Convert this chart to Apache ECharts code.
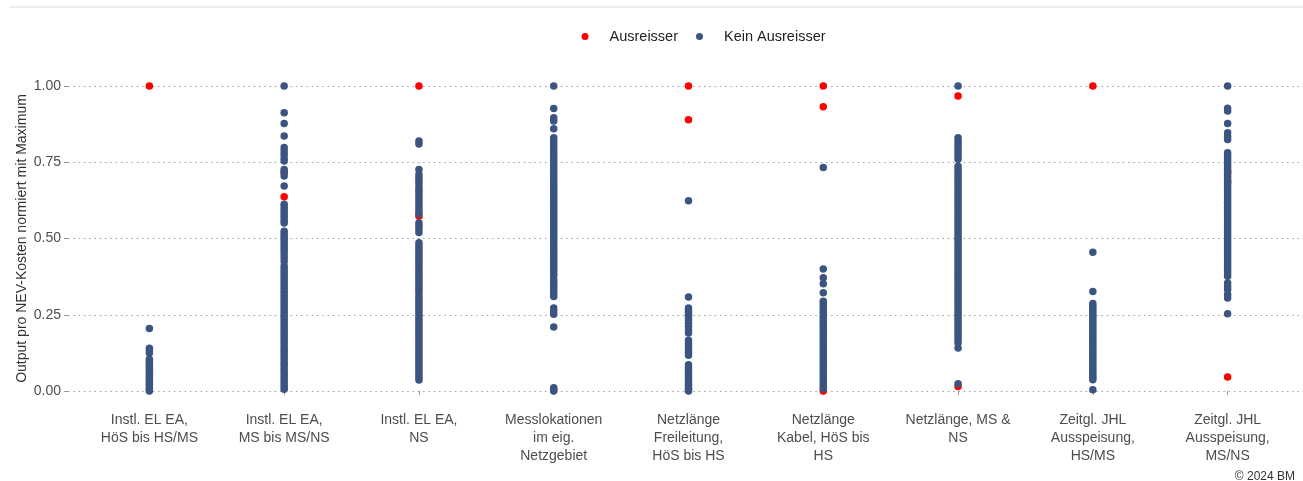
<!DOCTYPE html>
<html>
<head>
<meta charset="utf-8">
<script src="https://cdn.jsdelivr.net/npm/echarts@6/dist/echarts.min.js"></script>
<style>
html,body{margin:0;padding:0;background:#fff;}
#chart{width:1303px;height:481px;}
</style>
</head>
<body>
<div id="chart"></div>
<script>
const categories = [
  'Instl. EL EA,\nHöS bis HS/MS',
  'Instl. EL EA,\nMS bis MS/NS',
  'Instl. EL EA,\nNS',
  'Messlokationen\nim eig.\nNetzgebiet',
  'Netzlänge\nFreileitung,\nHöS bis HS',
  'Netzlänge\nKabel, HöS bis\nHS',
  'Netzlänge, MS &\nNS',
  'Zeitgl. JHL\nAusspeisung,\nHS/MS',
  'Zeitgl. JHL\nAusspeisung,\nMS/NS'
];
const yTicks = [0, 0.25, 0.5, 0.75, 1];

// Kein Ausreisser (blue) per category
const blue1 = [0.205,0.14,0.132,0.125,0.104,0.097,0.09,0.084,0.078,0.071,0.065,0.058,0.052,0.046,0.04,0.034,0.028,0.022,0.016,0.01,0.005,0.0];
const blue2 = [1.0,0.912,0.877,0.836,0.798,0.787,0.776,0.764,0.754,0.726,0.72,0.705,0.672,0.612,0.603,0.594,0.585,0.576,0.567,0.558,0.551,0.524,0.515,0.506,0.497,0.488,0.478,0.468,0.458,0.447,0.436,0.425,
  0.41,0.401,0.392,0.383,0.373,0.364,0.355,0.346,0.337,0.327,0.318,0.309,0.3,0.291,0.281,0.272,0.263,0.254,0.245,0.235,0.226,0.217,0.208,0.199,0.189,0.18,0.171,0.162,0.153,0.143,0.134,0.125,0.116,0.107,0.097,0.088,0.079,0.07,0.061,0.051,0.042,0.033,0.024,0.015,0.006];
const blue3 = [0.82,0.81,0.726,0.71,0.7,0.69,0.68,0.668,0.658,0.648,0.638,0.627,0.617,0.607,0.597,0.587,0.58,0.551,0.541,0.531,0.52,
  0.486,0.477,0.468,0.459,0.449,0.44,0.431,0.422,0.413,0.403,0.394,0.385,0.376,0.367,0.357,0.348,0.339,0.33,0.321,0.311,0.302,0.293,0.284,0.275,0.265,0.256,0.247,0.238,0.229,0.219,0.21,0.201,0.192,0.183,0.173,0.164,0.155,0.146,0.137,0.127,0.118,0.109,0.1,0.091,0.081,0.072,0.063,0.054,0.045,0.036];
const blue4 = [1.0,0.926,0.896,0.885,0.86,0.83,0.82,0.81,0.8,0.79,0.78,0.77,0.76,0.75,0.74,0.73,
  0.72,0.711,0.702,0.693,0.684,0.675,0.666,0.657,0.648,0.639,0.63,0.621,0.612,0.603,0.594,0.585,0.576,0.567,0.558,0.549,0.54,0.531,0.522,0.513,0.504,0.495,0.486,0.477,0.468,0.459,0.45,0.441,0.432,0.423,0.414,0.405,0.396,0.387,0.378,0.365,0.356,0.347,0.338,0.329,0.32,0.31,
  0.272,0.262,0.252,0.21,0.011,0.005,0.0];
const blue5 = [0.624,0.308,0.272,0.265,0.258,0.25,0.241,0.232,0.222,0.211,0.2,0.19,0.166,0.156,0.146,0.136,0.126,0.117,
  0.086,0.078,0.07,0.062,0.055,0.047,0.04,0.032,0.025,0.018,0.01,0.005,0.0];
const blue6 = [0.733,0.4,0.371,0.352,0.322,0.294,0.285,0.276,0.267,0.258,0.249,0.24,0.231,0.222,0.213,0.204,0.195,0.186,0.177,0.168,0.159,0.15,0.141,0.132,0.123,0.114,0.105,0.096,0.087,0.078,0.069,0.06,0.051,0.042,0.033,0.024,0.015,0.007];
const blue7 = [1.0,0.83,0.82,0.81,0.8,0.79,0.78,0.77,0.76,0.737,0.726,0.717,0.708,0.699,0.69,0.681,0.672,0.663,0.654,0.645,0.636,0.627,0.618,0.609,0.6,0.591,0.582,0.573,0.564,0.555,0.546,0.537,0.528,0.519,0.51,0.501,0.492,0.483,0.474,0.465,0.456,0.447,0.438,0.429,0.42,0.411,0.402,0.393,0.384,0.375,0.366,0.357,0.348,0.339,0.33,0.321,0.312,0.303,0.294,0.285,0.276,0.267,0.258,0.249,0.24,0.231,0.222,0.213,0.204,0.195,0.186,0.177,0.168,0.158,0.141,0.024];
const blue8 = [0.455,0.326,0.287,0.278,0.269,0.26,0.251,0.242,0.233,0.224,0.215,0.206,0.197,0.188,0.179,0.17,0.161,0.152,0.143,0.134,0.125,0.116,0.107,0.098,0.089,0.08,0.071,0.062,0.053,0.045,0.037,0.004];
const blue9 = [1.0,0.927,0.918,0.877,0.847,0.835,0.825,0.781,0.772,0.763,0.754,0.745,0.736,0.727,0.718,0.709,0.7,0.691,0.682,0.673,0.664,0.655,0.646,0.637,0.628,0.619,0.61,0.601,0.592,0.583,0.574,0.565,0.556,0.547,0.538,0.529,0.52,0.511,0.502,0.493,0.484,0.475,0.466,0.457,0.448,0.439,0.43,0.421,0.412,0.403,0.394,0.385,0.376,0.354,0.343,0.333,0.316,0.305,0.253];

// Ausreisser (red) per category
const red1 = [1.0];
const red2 = [0.715,0.637];
const red3 = [1.0,0.573];
const red4 = [];
const red5 = [1.0,0.889];
const red6 = [1.0,0.932,0.0];
const red7 = [0.967,0.015];
const red8 = [1.0];
const red9 = [0.716,0.685,0.046];

const blueByCat = [blue1,blue2,blue3,blue4,blue5,blue6,blue7,blue8,blue9];
const redByCat = [red1,red2,red3,red4,red5,red6,red7,red8,red9];

const toPoints = (groups) => groups.flatMap((arr, i) => arr.map(v => [i, v]));

const FONT = "'Liberation Sans', Arial, sans-serif";
const chart = echarts.init(document.getElementById('chart'), null, {renderer: 'canvas'});
chart.setOption({
  animation: false,
  backgroundColor: '#ffffff',
  textStyle: {fontFamily: FONT},
  legend: {
    top: 29,
    left: 581.5,
    padding: 0,
    itemWidth: 7,
    itemHeight: 7,
    itemGap: 18,
    icon: 'circle',
    data: ['Ausreisser', 'Kein Ausreisser'],
    textStyle: {fontFamily: FONT, fontSize: 14.5, color: '#222', padding: [0, 0, 0, 16]}
  },
  grid: [
    {left: 68, right: 0, top: 86, bottom: 90},
    {left: 82, right: 8, top: 70.75, bottom: 74.75}
  ],
  xAxis: [
    {gridIndex: 0, type: 'value', min: 0, max: 1, show: false},
    {
      gridIndex: 1, type: 'category', data: categories, boundaryGap: true,
      axisLine: {show: false},
      axisTick: {show: true, length: 4, alignWithLabel: true, lineStyle: {color: '#999'}},
      axisLabel: {interval: 0, margin: 5, fontFamily: FONT, fontSize: 14, lineHeight: 18, color: '#4d4d4d'},
      splitLine: {show: false}
    }
  ],
  yAxis: [
    {
      gridIndex: 0, type: 'value', min: 0, max: 1, interval: 0.25,
      name: 'Output pro NEV-Kosten normiert mit Maximum',
      nameLocation: 'middle', nameGap: 39, nameMoveOverlap: false,
      nameTextStyle: {fontFamily: FONT, fontSize: 14, color: '#333'},
      axisLine: {show: false},
      axisTick: {show: true, length: 4, lineStyle: {color: '#999'}},
      axisLabel: {margin: 7, fontFamily: FONT, fontSize: 14, color: '#4d4d4d',
        formatter: v => (yTicks.includes(v) ? v.toFixed(2) : '')},
      splitLine: {show: true, lineStyle: {color: '#a0a0a0', width: 1.2, type: [1.5, 3.8]}}
    },
    {gridIndex: 1, type: 'value', min: -0.05, max: 1.05, show: false}
  ],
  series: [
    {
      name: 'Ausreisser', type: 'scatter', xAxisIndex: 1, yAxisIndex: 1,
      symbol: 'circle', symbolSize: 7.5,
      itemStyle: {color: '#ff0000', opacity: 1},
      data: toPoints(redByCat)
    },
    {
      name: 'Kein Ausreisser', type: 'scatter', xAxisIndex: 1, yAxisIndex: 1,
      symbol: 'circle', symbolSize: 7.5,
      itemStyle: {color: '#3b5580', opacity: 1},
      data: toPoints(blueByCat)
    }
  ],
  graphic: [
    {type: 'line', silent: true, shape: {x1: 9, y1: 7, x2: 1303, y2: 7}, style: {stroke: '#dcdcdc', lineWidth: 1}},
    {type: 'text', silent: true, x: 1295, y: 477,
      style: {text: '© 2024 BM', fontFamily: FONT, fontSize: 12, fill: '#333', align: 'right', verticalAlign: 'middle'}}
  ]
});
</script>
</body>
</html>
